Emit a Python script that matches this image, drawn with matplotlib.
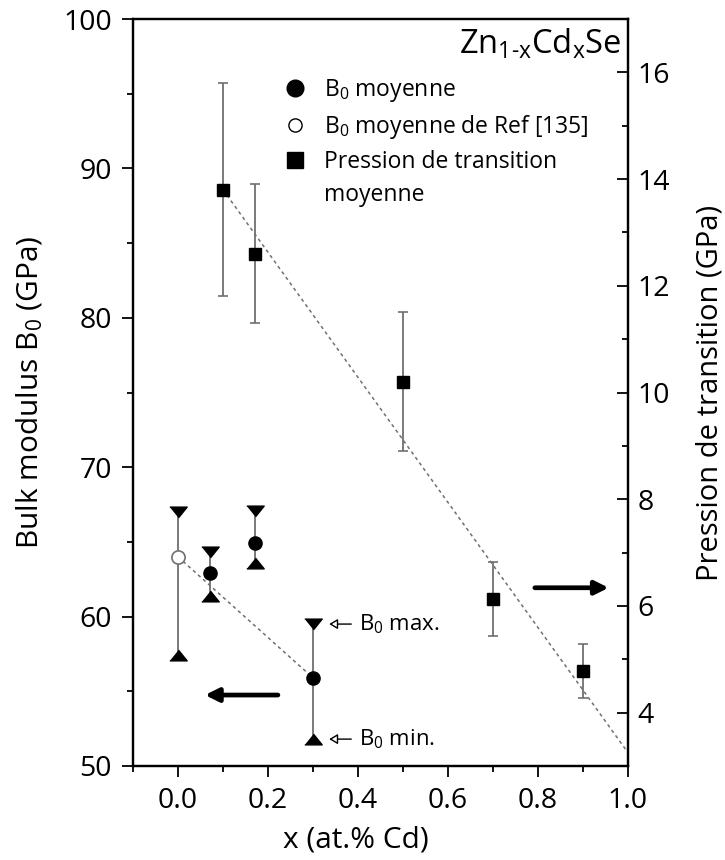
import matplotlib
matplotlib.use("Agg")
import matplotlib.pyplot as plt
from matplotlib.lines import Line2D
from matplotlib.ticker import MultipleLocator

plt.rcParams['font.family'] = ['Open Sans', 'DejaVu Sans']
plt.rcParams['mathtext.fontset'] = 'custom'
plt.rcParams['mathtext.rm'] = 'Open Sans'
plt.rcParams['mathtext.it'] = 'Open Sans'
plt.rcParams['mathtext.bf'] = 'Open Sans:bold'

# ---- data ----
# Bulk modulus (left axis)
x_b0 = [0.07, 0.17, 0.30]
b0_mean = [62.9, 64.9, 55.9]
b0_max = [64.3, 67.1, 59.5]
b0_min = [61.4, 63.6, 51.8]

x_ref = [0.0]
b0_ref = [64.0]
ref_max = [67.0]
ref_min = [57.4]

b0_fit_x = [0.0, 0.30]
b0_fit_y = [64.0, 55.9]

# Transition pressure (right axis)
x_p = [0.10, 0.17, 0.50, 0.70, 0.90]
p_mean = [13.8, 12.6, 10.2, 6.13, 4.78]
p_err = [2.0, 1.3, 1.3, 0.7, 0.5]

p_fit_x = [0.10, 1.0]
p_fit_y = [13.8, 3.25]

x_ticks = [0.0, 0.2, 0.4, 0.6, 0.8, 1.0]
x_tick_labels = ["0.0", "0.2", "0.4", "0.6", "0.8", "1.0"]

fig = plt.figure(figsize=(7.25, 8.6), dpi=100)
ax = fig.add_axes([133/725, 1-766/860, (628-133)/725, (766-19)/860])
ax2 = ax.twinx()

gray = '#707070'
tri_down = [(-1, 0.62), (1, 0.62), (0, -0.62)]
tri_up = [(-1, -0.62), (1, -0.62), (0, 0.62)]

# B0 fit line
ax.plot(b0_fit_x, b0_fit_y, ls=(0, (2.2, 2.2)), color=gray, lw=1.1, zorder=2)
# vertical range lines
ax.vlines(x_b0 + x_ref, b0_min + ref_min, b0_max + ref_max, color=gray, lw=1.3, zorder=2)
ax.plot(x_b0 + x_ref, b0_max + ref_max, ls='none', marker=tri_down, color='black', ms=12.5, zorder=3)
ax.plot(x_b0 + x_ref, b0_min + ref_min, ls='none', marker=tri_up, color='black', ms=12.5, zorder=3)
ax.plot(x_b0, b0_mean, 'o', color='black', ms=9.5, zorder=4)
ax.plot(x_ref, b0_ref, 'o', mfc='white', mec=gray, mew=1.2, ms=9.5, zorder=4)

# Pressure
ax2.plot(p_fit_x, p_fit_y, ls=(0, (2.2, 2.2)), color=gray, lw=1.1, zorder=2)
ax2.errorbar(x_p, p_mean, yerr=p_err, fmt='s', color='black', ms=9,
             ecolor=gray, elinewidth=1.3, capsize=3.5, capthick=1.2, zorder=3)

ax.set_xlim(-0.1, 1.0)
ax.set_ylim(50, 100)
ax2.set_ylim(3, 17)

ax.set_xticks(x_ticks)
ax.set_xticklabels(x_tick_labels)
ax.xaxis.set_minor_locator(MultipleLocator(0.1))
ax.yaxis.set_major_locator(MultipleLocator(10))
ax.yaxis.set_minor_locator(MultipleLocator(5))
ax2.yaxis.set_major_locator(MultipleLocator(2))
ax2.yaxis.set_minor_locator(MultipleLocator(1))

for a in (ax, ax2):
    for s in a.spines.values():
        s.set_linewidth(1.6)
ax.tick_params(axis='both', which='major', direction='out', length=8, width=1.3, labelsize=20.5, pad=7)
ax.tick_params(axis='both', which='minor', direction='out', length=4.5, width=1.3)
ax.tick_params(top=False, which='both')
ax2.tick_params(axis='y', which='major', direction='in', length=8, width=1.3, labelsize=20.5, pad=7)
ax2.tick_params(axis='y', which='minor', direction='in', length=4.5, width=1.3)

ax.set_xlabel("x (at.% Cd)", fontsize=21.5)
ax.xaxis.set_label_coords(0.45, -0.08)
ax.set_ylabel("Bulk modulus B$_0$ (GPa)", fontsize=21.5, labelpad=13)
ax2.set_ylabel("Pression de transition (GPa)", fontsize=21, labelpad=18)

ax.text(0.985, 98.3, r"Zn$_{\mathregular{1\text{-}x}}$Cd$_{\mathregular{x}}$Se", ha='right', va='center', fontsize=23.5)

# thick arrows
ax.annotate('', xy=(0.06, 54.75), xytext=(0.222, 54.75),
            arrowprops=dict(arrowstyle='-|>,head_length=0.8,head_width=0.4', lw=3.4, color='black', shrinkA=0, shrinkB=0))
ax.annotate('', xy=(0.957, 61.93), xytext=(0.793, 61.93),
            arrowprops=dict(arrowstyle='-|>,head_length=0.8,head_width=0.4', lw=3.4, color='black', shrinkA=0, shrinkB=0))

# B0 max/min labels
for yv, lab in ((b0_max[2], "B$_0$ max."), (b0_min[2], "B$_0$ min.")):
    ax.annotate('', xy=(0.336, yv), xytext=(0.385, yv),
                arrowprops=dict(arrowstyle='-|>,head_length=0.5,head_width=0.3', lw=1, fc='white', ec='black', shrinkA=0, shrinkB=0))
    ax.text(0.402, yv, lab, ha='left', va='center', fontsize=16)

handles = [
    Line2D([], [], ls='none', marker='o', color='black', ms=12),
    Line2D([], [], ls='none', marker='o', mfc='white', mec='black', mew=1, ms=9.5),
    Line2D([], [], ls='none', marker='s', color='black', ms=12),
    Line2D([], [], ls='none', marker=''),
]
labels = ["B$_0$ moyenne", "B$_0$ moyenne de Ref [135]", "Pression de transition", "moyenne"]
ax2.legend(handles, labels, loc='upper left', bbox_to_anchor=(0.29, 0.934), frameon=False,
           fontsize=16.5, handlelength=0.8, handletextpad=0.85, labelspacing=0.38, borderaxespad=0)

fig.savefig("out.png", dpi=100)
